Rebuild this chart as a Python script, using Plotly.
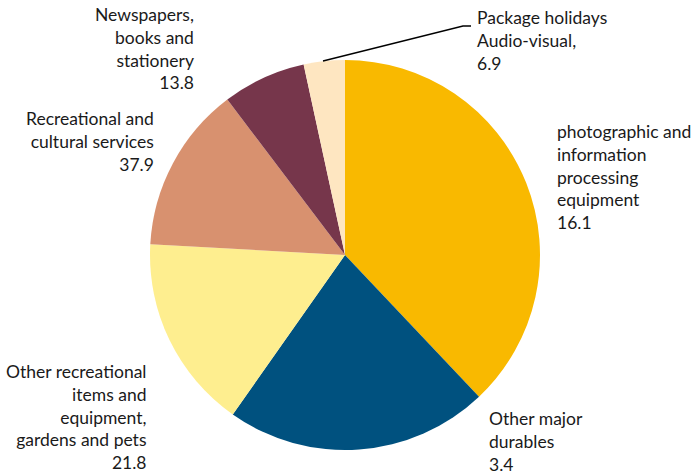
import plotly.graph_objects as go

W, H = 697, 473

# Slice data (clockwise from 12 o'clock)
categories = [
    "Recreational and cultural services",
    "Other recreational items and equipment, gardens and pets",
    "Audio-visual, photographic and information processing equipment",
    "Newspapers, books and stationery",
    "Package holidays",
    "Other major durables",
]
values = [37.9, 21.8, 16.1, 13.8, 6.9, 3.4]
colors = ["#F9B900", "#00517F", "#FEEE8F", "#D8916F", "#76364B", "#FEE6C1"]

# Label text as printed in the chart
label_lines = [
    ["Package holidays", "Audio-visual,"],
    ["photographic and", "information", "processing", "equipment"],
    ["Other major", "durables"],
    ["Other recreational", "items and", "equipment,", "gardens and pets"],
    ["Recreational and", "cultural services"],
    ["Newspapers,", "books and", "stationery"],
]
label_values = ["6.9", "16.1", "3.4", "21.8", "37.9", "13.8"]

# Label placement (pixels): x, y(top), anchor/align
label_pos = [
    (475, 5, "left"),
    (555, 119, "left"),
    (487, 406, "left"),
    (149, 359, "right"),
    (156, 106, "right"),
    (196, 2, "right"),
]

fig = go.Figure(go.Pie(
    labels=categories,
    values=values,
    marker=dict(colors=colors, line=dict(width=0)),
    sort=False,
    direction="clockwise",
    rotation=0,
    textinfo="none",
    hoverinfo="label+value",
    showlegend=False,
    domain=dict(x=[150 / W, 540 / W], y=[(H - 450) / H, (H - 60) / H]),
))

font = dict(family="Lato, 'Open Sans', sans-serif", size=17.5, color="#1a1a1a")
annotations = []
for lines, val, (px, py, al) in zip(label_lines, label_values, label_pos):
    annotations.append(dict(
        text="<br>".join(lines + [val]),
        x=px / W, y=1 - py / H, xref="paper", yref="paper",
        xanchor=al, yanchor="top", align=al, showarrow=False, font=font,
    ))

# Leader line for the small slice
pts = [(323, 61), (463, 26), (471, 26)]
path = "M " + " L ".join(f"{x / W},{1 - y / H}" for x, y in pts)
fig.update_layout(
    width=W, height=H,
    margin=dict(l=0, r=0, t=0, b=0),
    paper_bgcolor="white", plot_bgcolor="white",
    annotations=annotations,
    shapes=[dict(type="path", path=path, xref="paper", yref="paper",
                 line=dict(color="black", width=1.3))],
)

fig.write_html("out.html",
               config={"displayModeBar": False},
               post_script="document.body.style.margin='0';document.body.style.overflow='hidden';")
